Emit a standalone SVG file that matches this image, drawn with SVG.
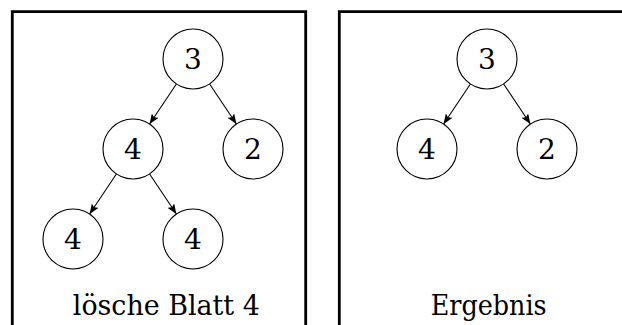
<svg xmlns="http://www.w3.org/2000/svg" width="622" height="325" viewBox="0 0 622 325">
<style>
.frame{fill:none;stroke:#000;stroke-width:2.8}
.node circle{fill:#fff;stroke:#000;stroke-width:1.1}
.node text{font-size:28px;text-anchor:middle;fill:#000}
.edge{stroke:#000;stroke-width:1.1;fill:none;marker-end:url(#arr)}
.label{font-size:28px;text-anchor:middle;fill:#000}
</style>
<defs>
<marker id="arr" markerWidth="10" markerHeight="8" refX="10" refY="4" orient="auto" markerUnits="userSpaceOnUse">
<path d="M0,0 L10,4 L0,8 L2,4 Z" fill="#000"/>
</marker>
</defs>
<g id="frames">
<path class="frame" d="M12.3,325 V11.7 H305.7 V325"/>
<path class="frame" d="M339.3,325 V11.7 H622"/>
</g>
<g id="connectors">
<line class="edge" x1="176.4" y1="84" x2="149.6" y2="124"/>
<line class="edge" x1="209.6" y1="84" x2="236.4" y2="124"/>
<line class="edge" x1="116.4" y1="174" x2="89.6" y2="214"/>
<line class="edge" x1="149.6" y1="174" x2="176.4" y2="214"/>
<line class="edge" x1="470.4" y1="84" x2="443.6" y2="124"/>
<line class="edge" x1="503.6" y1="84" x2="530.4" y2="124"/>
</g>
<g font-family="DejaVu Serif, Liberation Serif, serif">
<g id="n1" class="node"><circle cx="193" cy="59" r="30"/><text x="193" y="69">3</text></g>
<g id="n2" class="node"><circle cx="133" cy="149" r="30"/><text x="133" y="159">4</text></g>
<g id="n3" class="node"><circle cx="253" cy="149" r="30"/><text x="253" y="159">2</text></g>
<g id="n4" class="node"><circle cx="73" cy="239" r="30"/><text x="73" y="249">4</text></g>
<g id="n5" class="node"><circle cx="193" cy="239" r="30"/><text x="193" y="249">4</text></g>
<g id="m1" class="node"><circle cx="487" cy="59" r="30"/><text x="487" y="69">3</text></g>
<g id="m2" class="node"><circle cx="427" cy="149" r="30"/><text x="427" y="159">4</text></g>
<g id="m3" class="node"><circle cx="547" cy="149" r="30"/><text x="547" y="159">2</text></g>
<text class="label" x="166.3" y="315" textLength="187" lengthAdjust="spacingAndGlyphs">lösche Blatt 4</text>
<text class="label" x="488.7" y="315" textLength="116" lengthAdjust="spacingAndGlyphs">Ergebnis</text>
</g>
</svg>
